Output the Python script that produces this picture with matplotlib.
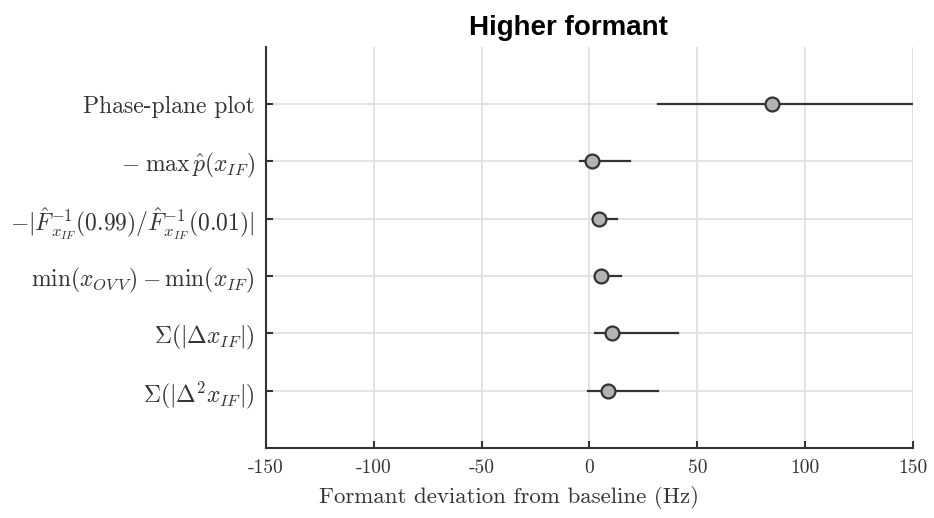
import matplotlib
matplotlib.use("Agg")
import matplotlib.pyplot as plt

# font setup: LaTeX-like look for ticks and labels
plt.rcParams["font.family"] = "serif"
plt.rcParams["font.serif"] = ["cmr10"]
plt.rcParams["mathtext.fontset"] = "cm"
plt.rcParams["axes.unicode_minus"] = False
plt.rcParams["axes.formatter.use_mathtext"] = True

# data (top to bottom)
labels = [
    "Phase-plane plot",
    r"$-\;\max\,\hat{p}(x_{IF})$",
    r"$-|\hat{F}^{-1}_{x_{IF}}(0.99)/\hat{F}^{-1}_{x_{IF}}(0.01)|$",
    r"$\min(x_{OV\,V})-\min(x_{IF})$",
    r"$\Sigma(|\Delta x_{IF}|)$",
    r"$\Sigma(|\Delta^2 x_{IF}|)$",
]
centers = [84.5, 1.3, 4.5, 5.3, 10.3, 8.7]
lower = [31.9, -4.4, 2.0, 3.0, 2.5, -0.5]
upper = [152.0, 18.8, 12.6, 14.6, 40.9, 31.6]
xticks = [-150, -100, -50, 0, 50, 100, 150]

fig = plt.figure(figsize=(9.34, 5.18), dpi=100)
ax = fig.add_axes([0.2848, 0.135, 0.6927, 0.775])

ypos = list(range(len(labels), 0, -1))
for y, c, lo, hi in zip(ypos, centers, lower, upper):
    ax.plot([lo, hi], [y, y], color="#333333", lw=1.6, zorder=3, clip_on=True)
    ax.plot(c, y, "o", ms=10, mfc="#b3b3b3", mec="#333333", mew=1.6, zorder=4)

ax.set_xlim(-150, 150)
ax.set_ylim(0, len(labels) + 1)
ax.set_yticks(ypos)
ax.set_yticklabels(labels, fontsize=17, color="#333333")
ax.set_xticks(xticks)
ax.set_xticklabels([str(t) for t in xticks], fontsize=14, color="#333333")
ax.set_xlabel("Formant deviation from baseline (Hz)", fontsize=16.5,
              color="#333333")
ax.xaxis.set_label_coords((509.5 - 266) / 647, -0.095)

ax.grid(True, color="#e0e0e0", lw=1.3, zorder=0)
ax.set_axisbelow(True)
for s in ["top", "right"]:
    ax.spines[s].set_visible(False)
for s in ["left", "bottom"]:
    ax.spines[s].set_color("#333333")
    ax.spines[s].set_linewidth(1.5)
ax.tick_params(direction="in", length=5, width=1.5, color="#333333", pad=8)

fig.text(568 / 934, 1 - 35 / 518, "Higher formant", family="Liberation Sans",
         fontweight="bold", fontsize=20, ha="center", va="baseline")

fig.savefig("out.png", dpi=100)
